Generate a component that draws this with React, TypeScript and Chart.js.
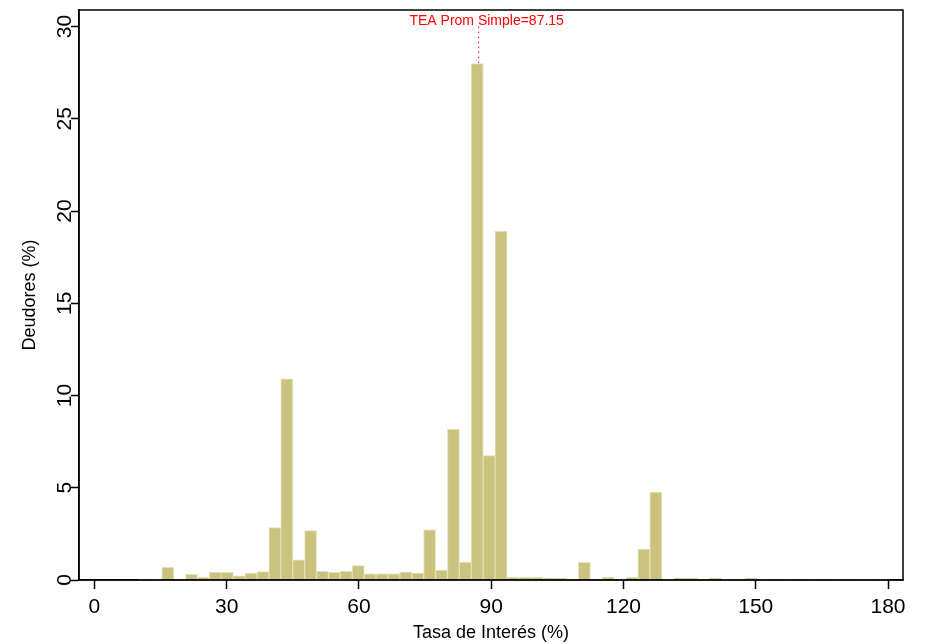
import React, { useEffect, useRef } from "react";
import { Chart, registerables } from "chart.js";

Chart.register(...registerables);

// Histogram bins (centre of each bin, bin width ≈ 2.70)
const binCenters = [
  11.23, 13.93, 16.63, 19.33, 22.03, 24.73, 27.43, 30.13, 32.83, 35.53,
  38.23, 40.93, 43.63, 46.33, 49.03, 51.73, 54.43, 57.13, 59.83, 62.53,
  65.23, 67.93, 70.63, 73.33, 76.03, 78.73, 81.43, 84.13, 86.83, 89.53,
  92.23, 94.93, 97.63, 100.33, 103.03, 105.73, 108.43, 111.13, 113.83, 116.53,
  119.23, 121.93, 124.63, 127.33, 130.03, 132.73, 135.43, 138.13, 140.83, 143.53,
  146.23, 148.93, 151.63, 154.33, 157.03, 159.73, 162.43, 165.13, 167.83, 170.53,
  173.23, 175.93, 178.63,
];

// Deudores (%) per bin
const deudoresPct = [
  0.03, 0.01, 0.69, 0.05, 0.31, 0.14, 0.42, 0.42, 0.22, 0.38,
  0.46, 2.84, 10.9, 1.09, 2.68, 0.47, 0.42, 0.47, 0.78, 0.33,
  0.33, 0.33, 0.43, 0.37, 2.72, 0.54, 8.17, 0.97, 28.0, 6.74,
  18.9, 0.14, 0.14, 0.14, 0.09, 0.09, 0.03, 0.96, 0.05, 0.15,
  0.05, 0.15, 1.67, 4.76, 0.02, 0.11, 0.11, 0.03, 0.11, 0.02,
  0.03, 0.1, 0.02, 0.02, 0.02, 0.02, 0.02, 0.02, 0.02, 0.02,
  0.02, 0.02, 0.02,
];

const xTickValues = [0, 30, 60, 90, 120, 150, 180];
const yTickValues = [0, 5, 10, 15, 20, 25, 30];
const meanRate = 87.15;
const meanLabel = "TEA Prom Simple=87.15";
const xTitle = "Tasa de Interés (%)";
const yTitle = "Deudores (%)";

const FONT = "'Liberation Sans', Arial, Helvetica, sans-serif";

export default function App() {
  const ref = useRef<HTMLCanvasElement | null>(null);

  useEffect(() => {
    const canvas = ref.current;
    if (!canvas) return;
    Chart.defaults.font.family = FONT;

    const meanPlugin = {
      id: "meanPlugin",
      beforeDatasetsDraw(chart: any) {
        const { ctx, scales } = chart;
        const px = scales.x.getPixelForValue(meanRate);
        ctx.save();
        ctx.strokeStyle = "#ff0000";
        ctx.lineWidth = 1;
        ctx.setLineDash([1.5, 3.5]);
        ctx.beginPath();
        ctx.moveTo(px, scales.y.getPixelForValue(30));
        ctx.lineTo(px, scales.y.getPixelForValue(0));
        ctx.stroke();
        ctx.restore();
      },
      afterDraw(chart: any) {
        const { ctx, chartArea: a, scales } = chart;
        ctx.save();
        ctx.strokeStyle = "#000";
        ctx.lineWidth = 1.5;
        ctx.strokeRect(a.left, a.top, a.right - a.left, a.bottom - a.top);
        ctx.fillStyle = "#ff0000";
        ctx.font = `14px ${FONT}`;
        ctx.textAlign = "center";
        ctx.textBaseline = "alphabetic";
        ctx.fillText(meanLabel, scales.x.getPixelForValue(meanRate) + 8, a.top + 15);
        ctx.restore();
      },
    };

    const chart = new Chart(canvas, {
      type: "bar",
      data: {
        datasets: [
          {
            data: binCenters.map((c, i) => ({ x: c, y: deudoresPct[i] })),
            backgroundColor: "#c9c37f",
            borderColor: "#e2dfb6",
            borderWidth: 1,
            barPercentage: 1,
            categoryPercentage: 1,
          },
        ],
      },
      options: {
        animation: false,
        responsive: true,
        maintainAspectRatio: false,
        layout: { padding: { left: 0, top: 10, right: 22, bottom: 0 } },
        plugins: { legend: { display: false }, tooltip: { enabled: false } },
        scales: {
          x: {
            type: "linear",
            offset: false,
            min: -3.5,
            max: 183.4,
            afterBuildTicks: (s: any) => {
              s.ticks = xTickValues.map((v) => ({ value: v }));
            },
            afterFit: (s: any) => {
              s.height = 64;
            },
            ticks: {
              font: { size: 21, family: FONT },
              color: "#000",
              autoSkip: false,
              maxRotation: 0,
              padding: 6,
            },
            grid: {
              offset: false,
              drawOnChartArea: false,
              drawTicks: true,
              tickLength: 9,
              tickColor: "#000",
              tickWidth: 1.5,
            },
            border: { display: true, color: "#000", width: 1.5 },
            title: {
              display: true,
              text: xTitle,
              color: "#000",
              font: { size: 18, family: FONT },
              padding: { top: 0, bottom: 0 },
            },
          },
          y: {
            type: "linear",
            min: 0,
            max: 30.9,
            afterBuildTicks: (s: any) => {
              s.ticks = yTickValues.map((v) => ({ value: v }));
            },
            afterFit: (s: any) => {
              s.width = 79;
            },
            ticks: {
              font: { size: 21, family: FONT },
              color: "#000",
              minRotation: 90,
              maxRotation: 90,
              crossAlign: "center",
              padding: -6,
              autoSkip: false,
            },
            grid: {
              drawOnChartArea: false,
              drawTicks: true,
              tickLength: 8,
              tickColor: "#000",
              tickWidth: 1.5,
            },
            border: { display: true, color: "#000", width: 1.5 },
            title: {
              display: true,
              text: yTitle,
              color: "#000",
              font: { size: 18, family: FONT },
              padding: { top: 19, bottom: 0 },
            },
          },
        },
      },
      plugins: [meanPlugin],
    });

    return () => chart.destroy();
  }, []);

  return (
    <div
      style={{
        position: "fixed",
        left: 0,
        top: 0,
        width: 925,
        height: 644,
        background: "#fff",
      }}
    >
      <canvas ref={ref} />
    </div>
  );
}
